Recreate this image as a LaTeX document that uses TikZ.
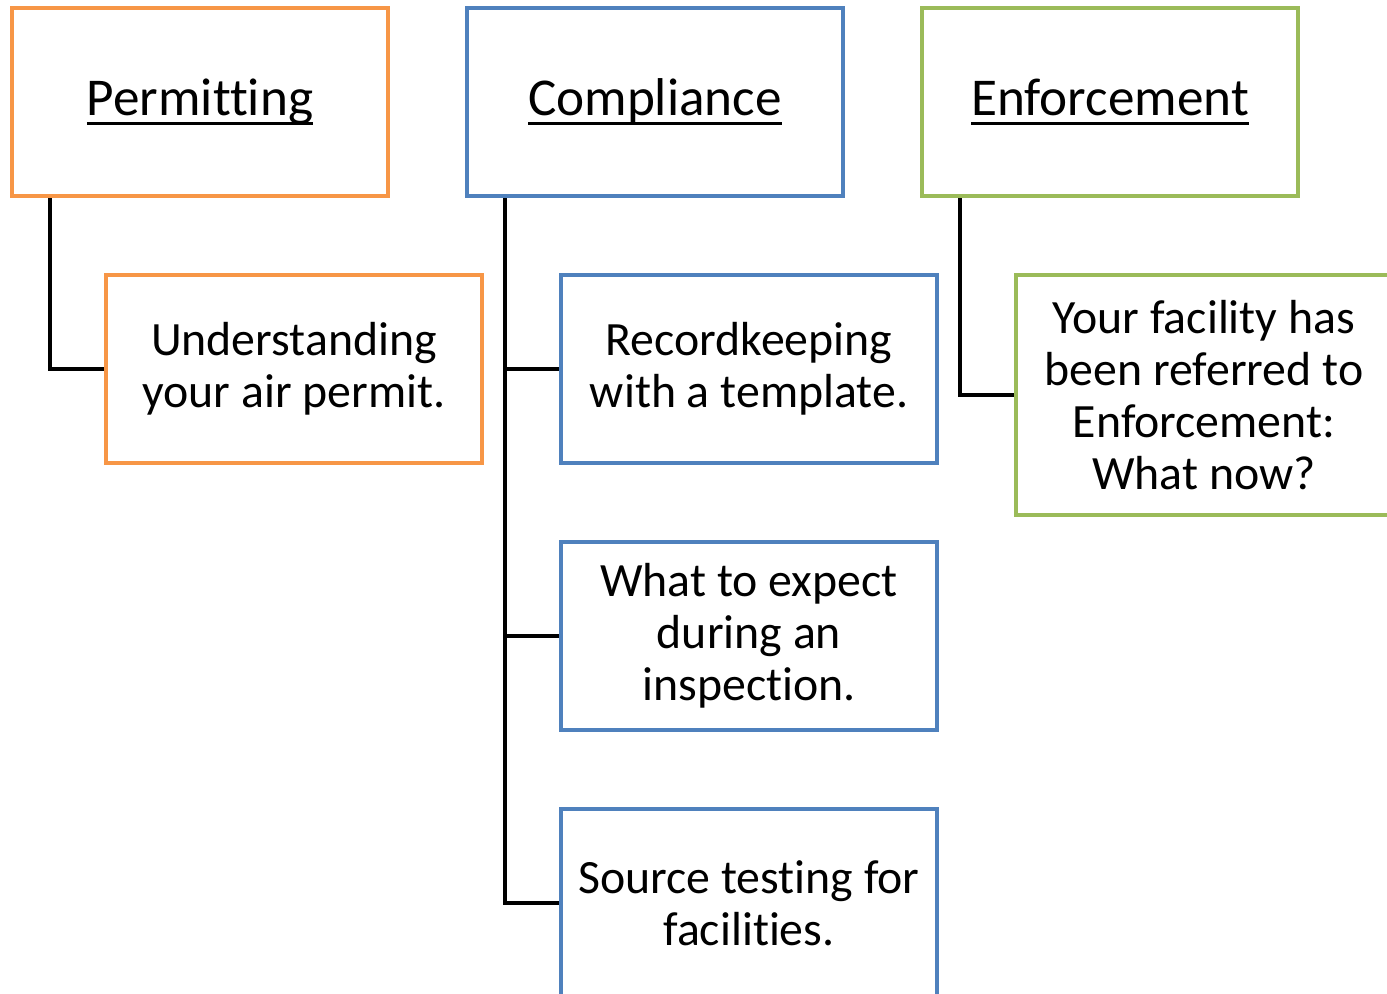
\documentclass[tikz,border=0pt]{standalone}
\usepackage{fontspec}
\setmainfont[Ligatures={NoCommon}]{Carlito}
\usetikzlibrary{calc}
\definecolor{permitorange}{HTML}{F79646}
\definecolor{complblue}{HTML}{4F81BD}
\definecolor{enforcegreen}{HTML}{9BBB59}
\newcommand{\headtext}[1]{\setbox0\hbox{#1}\rlap{\rule[-5pt]{\wd0}{1.5pt}}\box0}
\tikzset{
  topbox/.style={draw=#1, line width=2pt, fill=white, minimum width=188pt, minimum height=94pt, inner sep=0pt,
    font=\fontsize{26.6}{31}\selectfont},
  subbox/.style={draw=#1, line width=2pt, fill=white, minimum width=188pt, minimum height=94pt, inner sep=0pt,
    align=center, font=\fontsize{23.9}{26}\selectfont},
  link/.style={draw=black, line width=2pt}
}
\begin{document}
\begin{tikzpicture}[x=0.5pt, y=-0.5pt]
			%%%%% START %%%%%
			\useasboundingbox (0, 0) rectangle (1387, 993);
			\clip (0, 0) rectangle (1387, 993);
			
			% top row
			\node[topbox=permitorange] (permit) at (200, 102) {\headtext{Permitting}};
			\node[topbox=complblue] (compl) at (655, 102) {\headtext{Compliance}};
			\node[topbox=enforcegreen] (enforce) at (1110, 102) {\headtext{Enforcement}};
			
			% sub items
			\node[subbox=permitorange] (understand) at (294, 369) {Understanding\\your air permit.};
			\node[subbox=complblue] (record) at (749, 369) {Recordkeeping\\with a template.};
			\node[subbox=complblue] (inspect) at (749, 636) {What to expect\\during an\\inspection.};
			\node[subbox=complblue] (source) at (749, 903) {Source testing for\\facilities.};
			\node[subbox=enforcegreen, minimum height=120pt] (facility) at (1204, 395) {Your facility has\\been referred to\\Enforcement:\\What now?};
			
			% connectors
			\draw[link] ($(permit.south west)+(40, 0)$) |- (understand);
			\draw[link] ($(compl.south west)+(40, 0)$) |- (record);
			\draw[link] ($(compl.south west)+(40, 0)$) |- (inspect);
			\draw[link] ($(compl.south west)+(40, 0)$) |- (source);
			\draw[link] ($(enforce.south west)+(40, 0)$) |- (facility);
			
			%%%%% END %%%%%
\end{tikzpicture}
\end{document}
